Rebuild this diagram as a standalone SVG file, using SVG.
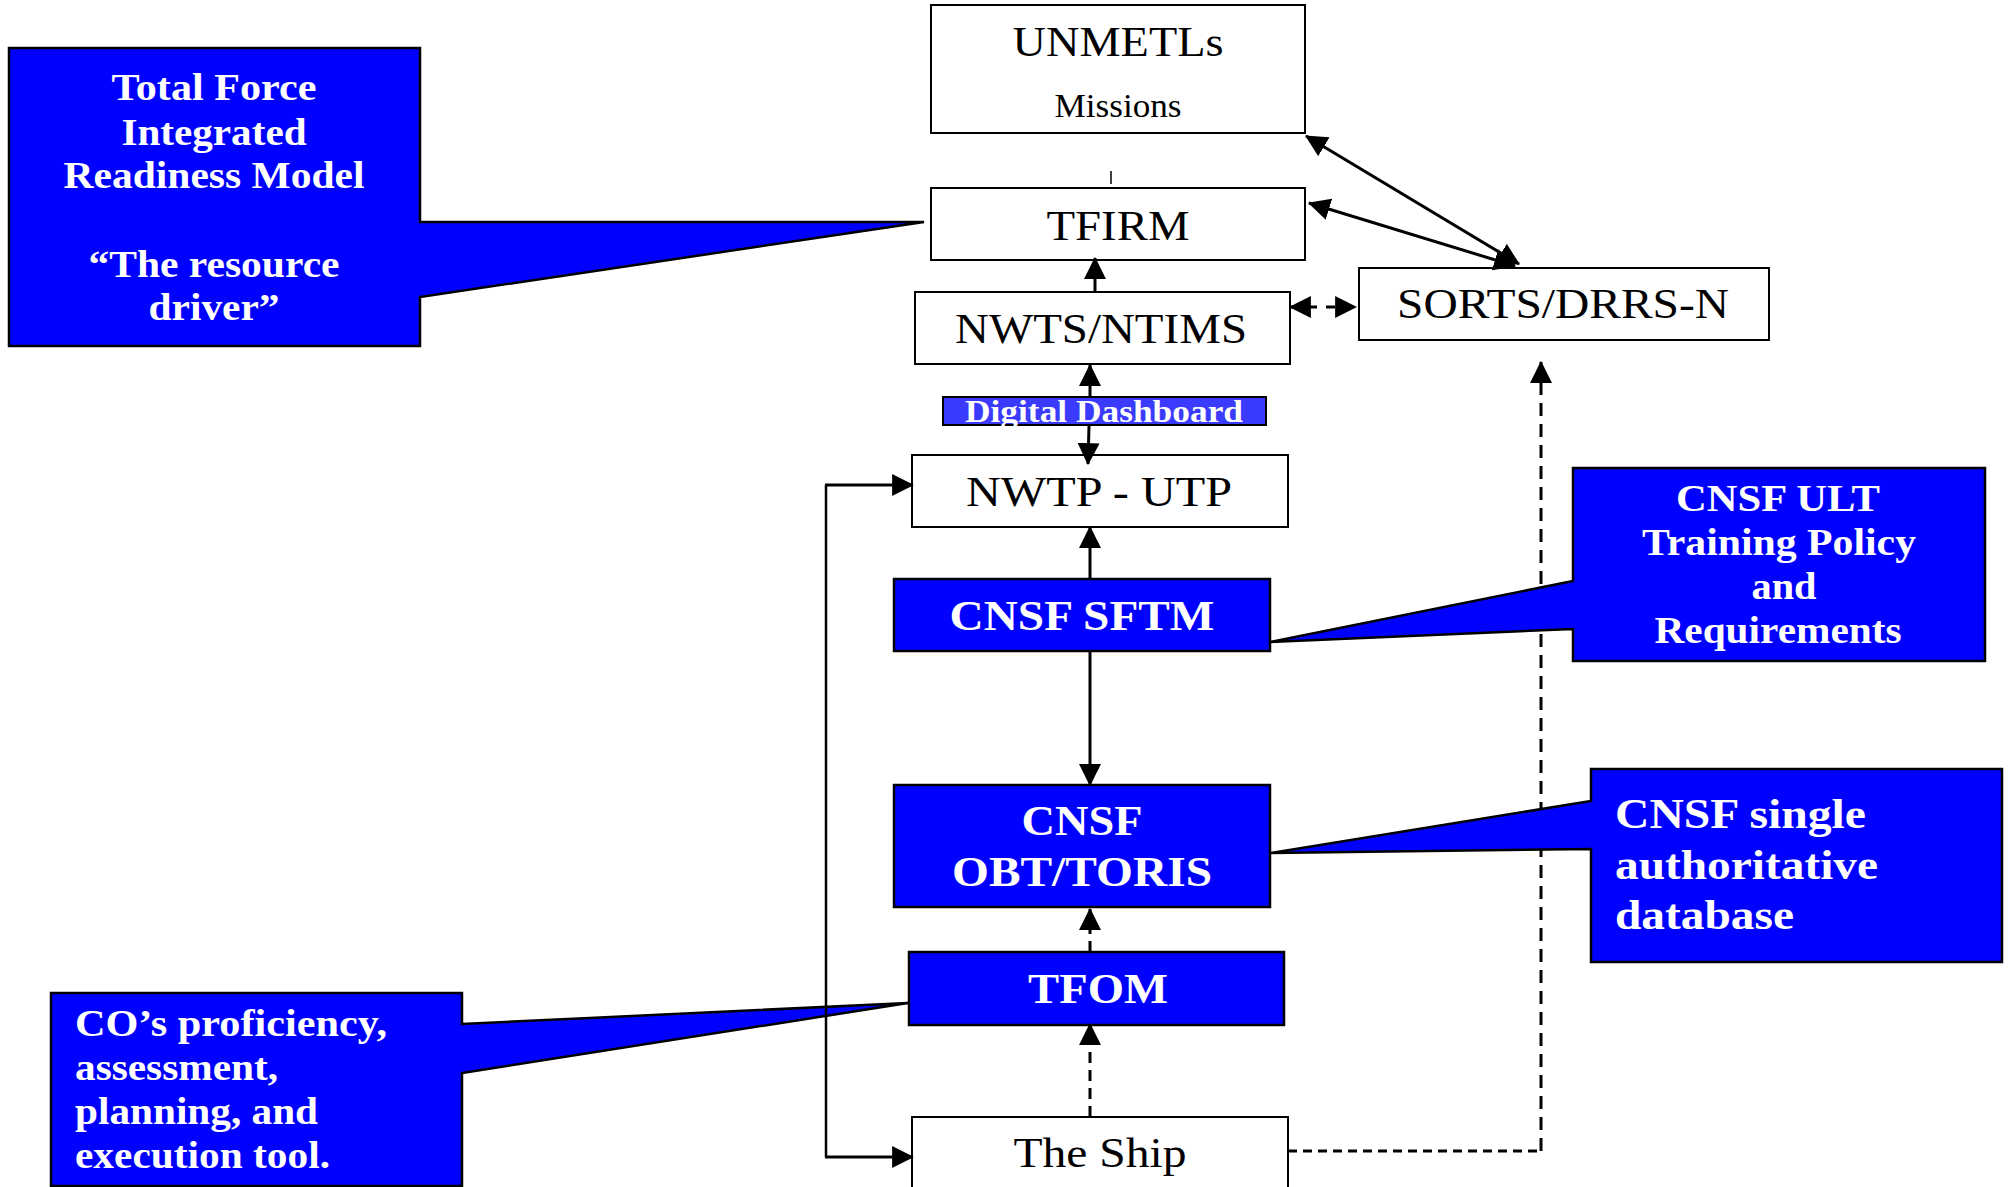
<svg xmlns="http://www.w3.org/2000/svg" width="2010" height="1187" viewBox="0 0 2010 1187">
<style>
.box{fill:#fff;stroke:#000;stroke-width:2}
.bb{fill:#0000ff;stroke:#000;stroke-width:2.5}
.dd{fill:#3b3bff;stroke:#000;stroke-width:2}
.co{fill:#0000ff;stroke:#000;stroke-width:2.5;stroke-linejoin:miter}
.t{font-family:"Liberation Serif","Times New Roman",serif;fill:#000}
.w{font-family:"Liberation Serif","Times New Roman",serif;fill:#fff;font-weight:bold}
.c{text-anchor:middle}
.ln{fill:none;stroke:#000;stroke-width:3}
.ds{fill:none;stroke:#000;stroke-width:3;stroke-dasharray:11 7}
</style>
<defs>
<marker id="ah" markerUnits="userSpaceOnUse" markerWidth="22" markerHeight="22" refX="19" refY="10" orient="auto-start-reverse" viewBox="0 0 20 20">
<path d="M0,0 L20,10 L0,20 Z" fill="#000"/>
</marker>
</defs>

<g id="callout-tfirm">
<path class="co" d="M9,48 L420,48 L420,222 L924,222 L420,297 L420,346 L9,346 Z"/>
<text class="w c" font-size="37" x="214" y="100" textLength="205" lengthAdjust="spacingAndGlyphs">Total Force</text>
<text class="w c" font-size="37" x="214" y="145" textLength="185" lengthAdjust="spacingAndGlyphs">Integrated</text>
<text class="w c" font-size="37" x="214" y="188" textLength="301" lengthAdjust="spacingAndGlyphs">Readiness Model</text>
<text class="w c" font-size="37" x="214" y="277" textLength="251" lengthAdjust="spacingAndGlyphs">“The resource</text>
<text class="w c" font-size="37" x="214" y="320" textLength="131" lengthAdjust="spacingAndGlyphs">driver”</text>
</g>

<g id="callout-tfom">
<path class="co" d="M51,993 L462,993 L462,1024 L908,1003 L462,1073 L462,1186 L51,1186 Z"/>
<text class="w" font-size="38" x="75" y="1036" textLength="312" lengthAdjust="spacingAndGlyphs">CO’s proficiency,</text>
<text class="w" font-size="38" x="75" y="1080" textLength="203" lengthAdjust="spacingAndGlyphs">assessment,</text>
<text class="w" font-size="38" x="75" y="1124" textLength="243" lengthAdjust="spacingAndGlyphs">planning, and</text>
<text class="w" font-size="38" x="75" y="1168" textLength="255" lengthAdjust="spacingAndGlyphs">execution tool.</text>
</g>

<g id="unmetls">
<rect class="box" x="931" y="5" width="374" height="128"/>
<text class="t c" font-size="42" x="1118" y="56" textLength="211" lengthAdjust="spacingAndGlyphs">UNMETLs</text>
<text class="t c" font-size="33" x="1118" y="117" textLength="127" lengthAdjust="spacingAndGlyphs">Missions</text>
</g>

<g id="tick"><line x1="1111" y1="171" x2="1111" y2="184" stroke="#000" stroke-width="1.5"/></g>

<g id="tfirm">
<rect class="box" x="931" y="188" width="374" height="72"/>
<text class="t c" font-size="43" x="1118" y="240" textLength="143" lengthAdjust="spacingAndGlyphs">TFIRM</text>
</g>

<g id="nwts">
<rect class="box" x="915" y="292" width="375" height="72"/>
<text class="t c" font-size="43" x="1101" y="343" textLength="292" lengthAdjust="spacingAndGlyphs">NWTS/NTIMS</text>
</g>

<g id="sorts">
<rect class="box" x="1359" y="268" width="410" height="72"/>
<text class="t c" font-size="43" x="1563" y="318" textLength="332" lengthAdjust="spacingAndGlyphs">SORTS/DRRS-N</text>
</g>

<g id="dashboard">
<rect class="dd" x="943" y="397" width="323" height="28"/>
<text class="w c" font-size="32" x="1104" y="422" textLength="278" lengthAdjust="spacingAndGlyphs">Digital Dashboard</text>
</g>

<g id="nwtp">
<rect class="box" x="912" y="455" width="376" height="72"/>
<text class="t c" font-size="43" x="1099" y="506" textLength="266" lengthAdjust="spacingAndGlyphs">NWTP - UTP</text>
</g>

<g id="sftm">
<rect class="bb" x="894" y="579" width="376" height="72"/>
<text class="w c" font-size="43" x="1082" y="630" textLength="265" lengthAdjust="spacingAndGlyphs">CNSF SFTM</text>
</g>

<g id="obt">
<rect class="bb" x="894" y="785" width="376" height="122"/>
<text class="w c" font-size="43" x="1082" y="835" textLength="121" lengthAdjust="spacingAndGlyphs">CNSF</text>
<text class="w c" font-size="43" x="1082" y="886" textLength="260" lengthAdjust="spacingAndGlyphs">OBT/TORIS</text>
</g>

<g id="tfom">
<rect class="bb" x="909" y="952" width="375" height="73"/>
<text class="w c" font-size="43" x="1098" y="1003" textLength="140" lengthAdjust="spacingAndGlyphs">TFOM</text>
</g>

<g id="ship">
<rect class="box" x="912" y="1117" width="376" height="80"/>
<text class="t c" font-size="43" x="1100" y="1167" textLength="173" lengthAdjust="spacingAndGlyphs">The Ship</text>
</g>

<g id="connectors">
<line x1="826" y1="485" x2="826" y2="1157" stroke="#000" stroke-width="2.5"/>
<path class="ln" d="M825,485 L913,485" marker-end="url(#ah)"/>
<path class="ln" d="M825,1157 L913,1157" marker-end="url(#ah)"/>
<path class="ln" d="M1095,292 L1095,258" marker-end="url(#ah)"/>
<path class="ln" d="M1090,397 L1090,365" marker-end="url(#ah)"/>
<path class="ln" d="M1089,426 L1088,464" marker-end="url(#ah)"/>
<path class="ln" d="M1090,579 L1090,527" marker-end="url(#ah)"/>
<path class="ln" d="M1090,651 L1090,785" marker-end="url(#ah)"/>
<path class="ds" d="M1090,952 L1090,909" marker-end="url(#ah)"/>
<path class="ds" d="M1090,1117 L1090,1024" marker-end="url(#ah)"/>
<path class="ds" style="stroke-dasharray:9 9" d="M1290,307 L1356,307" marker-start="url(#ah)" marker-end="url(#ah)"/>
<path class="ln" d="M1306,136 L1519,264" marker-start="url(#ah)" marker-end="url(#ah)"/>
<path class="ln" d="M1309,203 L1515,266" marker-start="url(#ah)" marker-end="url(#ah)"/>
<path class="ds" style="stroke-dasharray:9 6" d="M1288,1151 L1541,1151"/>
<path class="ds" style="stroke-dasharray:13 8" d="M1541,1151 L1541,362" marker-end="url(#ah)"/>
</g>

<g id="callout-sftm">
<path class="co" d="M1573,468 L1985,468 L1985,661 L1573,661 L1573,629 L1270,642 L1573,581 Z"/>
<text class="w c" font-size="37" x="1778" y="511" textLength="204" lengthAdjust="spacingAndGlyphs">CNSF ULT</text>
<text class="w c" font-size="37" x="1779" y="555" textLength="274" lengthAdjust="spacingAndGlyphs">Training Policy</text>
<text class="w c" font-size="37" x="1784" y="599" textLength="65" lengthAdjust="spacingAndGlyphs">and</text>
<text class="w c" font-size="37" x="1778" y="643" textLength="247" lengthAdjust="spacingAndGlyphs">Requirements</text>
</g>

<g id="callout-obt">
<path class="co" d="M1591,769 L2002,769 L2002,962 L1591,962 L1591,849 L1271,853 L1591,801 Z"/>
<text class="w" font-size="42" x="1615" y="828" textLength="251" lengthAdjust="spacingAndGlyphs">CNSF single</text>
<text class="w" font-size="42" x="1615" y="879" textLength="263" lengthAdjust="spacingAndGlyphs">authoritative</text>
<text class="w" font-size="42" x="1615" y="929" textLength="179" lengthAdjust="spacingAndGlyphs">database</text>
</g>
</svg>
